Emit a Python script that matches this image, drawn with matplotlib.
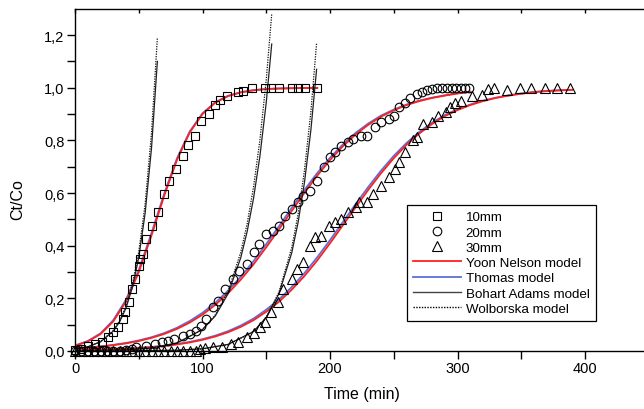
import matplotlib
matplotlib.use("Agg")
import matplotlib.pyplot as plt
from matplotlib.ticker import FixedLocator, FuncFormatter
from matplotlib.lines import Line2D

plt.rcParams['font.family'] = ['Liberation Sans', 'DejaVu Sans']

# ---- experimental data ----
t10 = [0, 5, 10, 16, 21, 26, 30, 34, 38, 39, 42, 45, 47, 50, 51, 53, 56, 60, 65, 70,
       74, 79, 85, 89, 94, 99, 105, 110, 114, 119, 128, 132, 139, 149, 154, 160, 170, 175, 180, 190]
c10 = [0.003, 0.008, 0.020, 0.027, 0.033, 0.052, 0.071, 0.090, 0.120, 0.147,
       0.185, 0.235, 0.273, 0.324, 0.350, 0.368, 0.425, 0.476, 0.527, 0.596,
       0.647, 0.690, 0.739, 0.784, 0.815, 0.875, 0.900, 0.934, 0.953, 0.970,
       0.982, 0.989, 0.998, 1.0, 1.0, 1.0, 1.0, 1.0, 1.0, 1.0]

t20 = [0, 5, 10, 15, 20, 25, 30, 35, 40, 45, 48, 56, 63, 68, 73, 78, 85, 90, 95, 99,
       103, 108, 112, 118, 124, 129, 135, 140, 144, 150, 155, 160, 165, 170, 175, 179, 184, 190, 195, 200,
       204, 209, 214, 218, 224, 229, 235, 240, 246, 250, 254, 259, 263, 268, 272, 276, 280, 284, 288, 292,
       296, 299, 303, 306, 309]
c20 = [0, 0, 0, 0, 0, 0, 0, 0, 0.005, 0.008,
       0.014, 0.020, 0.027, 0.033, 0.039, 0.046, 0.056, 0.065, 0.075, 0.096,
       0.122, 0.166, 0.191, 0.235, 0.273, 0.305, 0.330, 0.375, 0.406, 0.444,
       0.457, 0.476, 0.514, 0.539, 0.565, 0.590, 0.609, 0.647, 0.698, 0.736,
       0.755, 0.780, 0.793, 0.805, 0.818, 0.818, 0.850, 0.868, 0.881, 0.894,
       0.925, 0.942, 0.960, 0.975, 0.985, 0.990, 0.995, 1.0, 0.998, 0.998,
       0.998, 0.998, 0.998, 0.998, 0.998]

t30 = [0, 5, 10, 15, 20, 25, 30, 35, 40, 45, 50, 55, 60, 65, 70, 75, 80, 85, 90, 95,
       98, 102, 108, 115, 122, 128, 135, 140, 145, 149, 154, 159, 163, 170, 174, 179, 184, 188, 193, 199,
       204, 209, 214, 220, 223, 229, 234, 240, 246, 251, 254, 259, 265, 268, 273, 280, 285, 291, 294, 298,
       303, 311, 319, 324, 329, 339, 349, 358, 369, 378, 388]
c30 = [0, 0, 0, 0, 0, 0, 0, 0, 0, 0, 0, 0, 0, 0, 0, 0, 0, 0, 0, 0,
       0.008, 0.010, 0.014, 0.014, 0.027, 0.035, 0.052, 0.070, 0.090, 0.110,
       0.150, 0.185, 0.235, 0.273, 0.311, 0.337, 0.400, 0.432, 0.438, 0.476,
       0.489, 0.501, 0.527, 0.546, 0.565, 0.565, 0.596, 0.628, 0.660, 0.690,
       0.717, 0.755, 0.800, 0.812, 0.862, 0.868, 0.894, 0.907, 0.925, 0.940,
       0.950, 0.970, 0.972, 0.995, 0.998, 0.992, 1.0, 1.0, 1.0, 1.0, 1.0]

# ---- Yoon-Nelson and Thomas model curves ----
tm10 = [0, 10, 20, 30, 40, 50, 60, 70, 80, 90, 100, 110, 120, 130, 140, 150, 160, 170, 180, 190]
yn10 = [0.020, 0.036, 0.064, 0.112, 0.188, 0.299, 0.439, 0.590, 0.726, 0.830,
        0.900, 0.943, 0.968, 0.982, 0.990, 0.995, 0.997, 0.998, 0.999, 0.999]
th10 = [0.021, 0.038, 0.067, 0.117, 0.195, 0.307, 0.448, 0.598, 0.732, 0.834,
        0.903, 0.945, 0.969, 0.983, 0.991, 0.995, 0.997, 0.998, 0.999, 0.999]

tm20 = [0, 10, 20, 30, 40, 50, 60, 70, 80, 90, 100, 110, 120, 130, 140, 150,
        160, 170, 180, 190, 200, 210, 220, 230, 240, 250, 260, 270, 280, 290, 300, 310]
yn20 = [0.0096, 0.0127, 0.0168, 0.0221, 0.0290, 0.0380, 0.0497, 0.0647, 0.0839, 0.108,
        0.138, 0.175, 0.219, 0.271, 0.329, 0.394, 0.462, 0.532, 0.601, 0.666,
        0.725, 0.777, 0.822, 0.859, 0.890, 0.914, 0.934, 0.949, 0.961, 0.970, 0.978, 0.984]
th20 = [0.0100, 0.0133, 0.0176, 0.0232, 0.0305, 0.0400, 0.0523, 0.0681, 0.0883, 0.114,
        0.145, 0.183, 0.229, 0.282, 0.341, 0.406, 0.474, 0.544, 0.612, 0.676,
        0.734, 0.784, 0.828, 0.864, 0.894, 0.917, 0.936, 0.951, 0.962, 0.971, 0.979, 0.985]

tm30 = [0, 10, 20, 30, 40, 50, 60, 70, 80, 90, 100, 110, 120, 130, 140, 150, 160, 170, 180, 190,
        200, 210, 220, 230, 240, 250, 260, 270, 280, 290, 300, 310, 320, 330, 340, 350, 360, 370, 380, 390]
yn30 = [0.0028, 0.0037, 0.0049, 0.0064, 0.0084, 0.0110, 0.0145, 0.0190, 0.0249, 0.0325,
        0.0424, 0.0550, 0.0711, 0.0916, 0.117, 0.149, 0.187, 0.233, 0.285, 0.344,
        0.409, 0.477, 0.545, 0.612, 0.675, 0.732, 0.783, 0.826, 0.862, 0.892,
        0.915, 0.934, 0.949, 0.961, 0.970, 0.977, 0.983, 0.987, 0.990, 0.992]
th30 = [0.0030, 0.0039, 0.0052, 0.0068, 0.0089, 0.0117, 0.0154, 0.0202, 0.0264, 0.0345,
        0.0449, 0.0583, 0.0752, 0.0967, 0.123, 0.157, 0.196, 0.243, 0.296, 0.356,
        0.421, 0.489, 0.557, 0.623, 0.685, 0.741, 0.790, 0.832, 0.867, 0.896,
        0.918, 0.936, 0.951, 0.962, 0.971, 0.978, 0.984, 0.988, 0.990, 0.992]

# ---- Bohart-Adams and Wolborska model curves ----
tb10 = [0, 10, 20, 30, 35, 40, 45, 50, 55, 60, 64.6]
ba10 = [0.0074, 0.016, 0.0347, 0.0753, 0.111, 0.163, 0.241, 0.355, 0.523, 0.770, 1.10]
wo10 = [0.0073, 0.016, 0.0353, 0.0776, 0.115, 0.171, 0.254, 0.376, 0.558, 0.828, 1.19]

tb20 = [0, 20, 40, 60, 80, 100, 110, 120, 130, 135, 140, 145, 150, 154.3]
ba20 = [0.0006, 0.0016, 0.0043, 0.0115, 0.0306, 0.0815, 0.133, 0.217, 0.354, 0.453, 0.579, 0.739, 0.944, 1.166]
wo20 = [0.0005, 0.0015, 0.0040, 0.011, 0.030, 0.082, 0.137, 0.226, 0.375, 0.483, 0.622, 0.800, 1.030, 1.28]

tb30 = [0, 40, 80, 100, 120, 140, 150, 160, 170, 175, 180, 185, 189.5]
ba30 = [0.0, 0.0003, 0.0029, 0.0085, 0.025, 0.0739, 0.127, 0.218, 0.373, 0.489, 0.641, 0.839, 1.07]
wo30 = [0.0, 0.0003, 0.0025, 0.0078, 0.0239, 0.0732, 0.128, 0.224, 0.393, 0.520, 0.687, 0.909, 1.17]

series_labels = ['10mm', '20mm', '30mm']
model_labels = ['Yoon Nelson model', 'Thomas model', 'Bohart Adams model', 'Wolborska model']

W, H = 644, 410
fig = plt.figure(figsize=(W / 100, H / 100), dpi=100)
x0, y0 = 75, 352
xscale = 1.275     # px per minute
yscale = 263.3     # px per unit
xmax, ymax = 450, 1.30
ax = fig.add_axes([x0 / W, (H - y0) / H, xmax * xscale / W, ymax * yscale / H])

red = '#ff2020'
blue = '#5b6fd6'
lw = 1.3

for tm, yn, th in [(tm10, yn10, th10), (tm20, yn20, th20), (tm30, yn30, th30)]:
    ax.plot(tm, th, color=blue, lw=lw, zorder=2)
    ax.plot(tm, yn, color=red, lw=lw, zorder=2.1)

for tb, ba, wo in [(tb10, ba10, wo10), (tb20, ba20, wo20), (tb30, ba30, wo30)]:
    ax.plot(tb, ba, color='#222222', lw=0.9, zorder=3)
    ax.plot(tb, wo, color='#111111', lw=0.9, ls=(0, (1, 1)), zorder=3)

mk = dict(ls='none', mfc='none', mec='black', mew=0.8, clip_on=False, zorder=4)
ax.plot(t10, c10, marker='s', ms=5.8, **mk)
ax.plot(t20, c20, marker='o', ms=6.2, **mk)
ax.plot(t30, c30, marker='^', ms=6.8, **mk)

ax.set_xlim(0, xmax)
ax.set_ylim(0, ymax)

ax.spines['right'].set_visible(False)
for s in ax.spines.values():
    s.set_linewidth(1.0)

ax.xaxis.set_major_locator(FixedLocator([0, 100, 200, 300, 400]))
ax.xaxis.set_minor_locator(FixedLocator([50, 150, 250, 350, 450]))
ax.yaxis.set_major_locator(FixedLocator([0.0, 0.2, 0.4, 0.6, 0.8, 1.0, 1.2]))
ax.yaxis.set_minor_locator(FixedLocator([0.1, 0.3, 0.5, 0.7, 0.9, 1.1]))
ax.yaxis.set_major_formatter(FuncFormatter(lambda v, p: ('%.1f' % v).replace('.', ',')))

ax.tick_params(axis='both', which='both', direction='out', length=5.5, width=1.0,
               labelsize=10.5, pad=2)
ax.tick_params(axis='x', which='both', top=False)
ax.tick_params(axis='y', which='both', right=False)

top = ax.secondary_xaxis('top')
top.set_xticks([0, 50, 100, 150, 200, 250, 300, 350, 400, 450])
top.tick_params(direction='in', length=3, width=1.0, labeltop=False)
top.spines['top'].set_visible(False)

ax.set_xlabel('Time (min)', fontsize=11.5)
ax.set_ylabel('Ct/Co', fontsize=11.5)
ax.xaxis.set_label_coords((362 - x0) / (xmax * xscale), -(395 - y0) / (ymax * yscale))
ax.yaxis.set_label_coords(-(x0 - 18) / (xmax * xscale), (y0 - 200) / (ymax * yscale))
ax.xaxis.label.set_va('center')
ax.yaxis.label.set_va('center')

handles = [
    Line2D([], [], ls='none', marker='s', ms=5.8, mfc='none', mec='black', mew=0.8),
    Line2D([], [], ls='none', marker='o', ms=6.2, mfc='none', mec='black', mew=0.8),
    Line2D([], [], ls='none', marker='^', ms=6.8, mfc='none', mec='black', mew=0.8),
    Line2D([], [], color=red, lw=lw),
    Line2D([], [], color=blue, lw=lw),
    Line2D([], [], color='#444444', lw=1.0),
    Line2D([], [], color='black', lw=1.0, ls=(0, (1, 1))),
]
leg = ax.legend(handles, series_labels + model_labels, loc='upper left',
                bbox_to_anchor=((407 - x0) / (xmax * xscale), (y0 - 206) / (ymax * yscale)),
                frameon=True, fancybox=False, edgecolor='black', framealpha=1,
                fontsize=9.6, handlelength=3.6, handletextpad=0.35, labelspacing=0.22,
                borderpad=0.45, borderaxespad=0)
leg.get_frame().set_linewidth(0.9)

fig.savefig('out.png', dpi=100)
